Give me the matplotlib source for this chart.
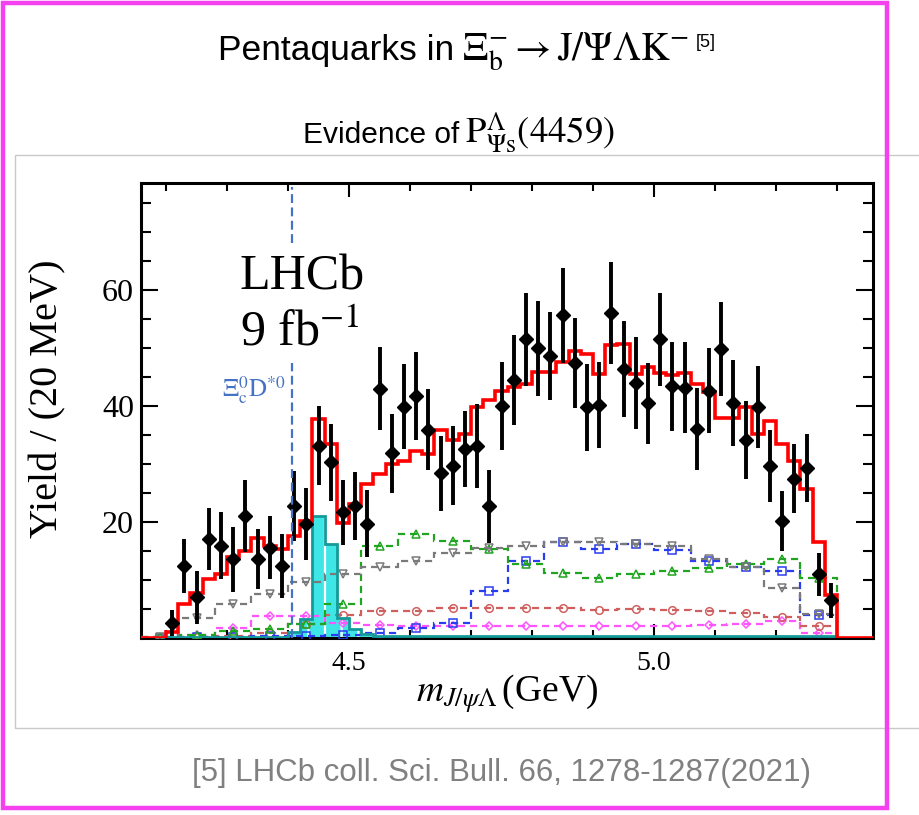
import numpy as np
import matplotlib
matplotlib.use("Agg")
import matplotlib.pyplot as plt
from matplotlib.patches import Rectangle
from matplotlib.ticker import MultipleLocator

plt.rcParams["mathtext.fontset"] = "stix"
plt.rcParams["font.family"] = ["Liberation Serif", "DejaVu Serif"]
plt.rcParams["hatch.color"] = "white"
plt.rcParams["hatch.linewidth"] = 1.6

# ---- data: 20 MeV bins from 4.20 to 5.30 GeV ----
fine_lo, fine_hi = 4.20, 5.30
data_yield = [2.6, 12.4, 7.0, 17.1, 15.9, 13.6, 21.1, 13.6, 15.6, 12.4,
              22.8, 19.7, 33.2, 30.3, 21.7, 22.8, 19.7, 43.0, 31.9, 39.9,
              41.7, 35.9, 28.4, 29.7, 32.6, 33.1, 22.7, 40.0, 44.5, 51.5,
              50.0, 48.6, 55.7, 47.4, 39.8, 40.2, 56.1, 46.4, 44.0, 40.5,
              51.5, 43.4, 43.2, 36.1, 42.7, 49.9, 40.5, 34.2, 39.9, 29.6,
              20.2, 27.5, 29.3, 11.0, 6.5]
data_err = [2.3, 4.6, 4.5, 5.3, 5.8, 5.6, 6.2, 5.2, 5.5, 5.5,
            6.0, 6.2, 6.8, 6.6, 5.6, 5.9, 5.8, 7.2, 6.8, 7.3,
            7.6, 7.0, 6.5, 6.8, 6.6, 7.3, 6.3, 7.6, 7.8, 8.1,
            8.2, 7.6, 8.2, 7.8, 7.5, 7.5, 8.8, 8.3, 7.9, 7.0,
            8.0, 7.7, 7.8, 7.1, 7.3, 8.1, 7.4, 6.7, 7.1, 6.2,
            5.2, 5.9, 5.9, 3.7, 3.0]
fit_total = [1.0, 5.8, 7.8, 10.1, 11.0, 13.9, 15.0, 17.3, 15.9, 15.3,
             17.6, 20.2, 37.8, 33.5, 19.9, 23.1, 26.6, 28.3, 30.0, 30.6,
             32.3, 31.7, 35.8, 34.1, 35.2, 39.8, 41.0, 42.7, 43.3, 43.9,
             45.9, 45.9, 47.6, 49.6, 49.0, 45.5, 50.5, 50.8, 45.6, 46.7,
             45.8, 45.3, 45.7, 43.9, 42.4, 37.9, 37.9, 39.8, 35.2, 37.5,
             33.5, 30.6, 25.7, 16.5, 7.5]
pc_signal = [0.2, 0.2, 0.2, 0.2, 0.2, 0.2, 0.2, 0.2, 0.2, 0.2,
             1.0, 3.2, 21.1, 16.2, 3.5, 1.5, 0.7, 0.3, 0.3, 0.3,
             0.3, 0.3, 0.3, 0.3, 0.3, 0.3, 0.3, 0.3, 0.3, 0.3,
             0.3, 0.3, 0.3, 0.3, 0.3, 0.3, 0.3, 0.3, 0.3, 0.3,
             0.3, 0.3, 0.3, 0.3, 0.3, 0.3, 0.3, 0.3, 0.3, 0.3,
             0.3, 0.3, 0.3, 0.3, 0.3]

# ---- fit components: 60 MeV bins from 4.16 to 5.30 GeV ----
coarse_lo, coarse_hi = 4.16, 5.30
comp_gray = [0.2, 3.5, 5.8, 7.6, 9.6, 11.0, 12.2, 13.3, 14.7, 15.6,
             15.9, 16.6, 16.6, 16.3, 15.8, 13.6, 12.2, 8.7, 4.2]
comp_green = [0.1, 0.6, 1.2, 1.6, 2.5, 5.8, 15.9, 17.9, 16.8, 15.4,
              12.7, 11.3, 10.4, 11.0, 11.5, 12.1, 12.7, 13.6, 10.4]
comp_blue = [0.0, 0.1, 0.2, 0.3, 0.4, 0.6, 0.9, 1.7, 2.6, 8.1,
             13.2, 16.5, 15.3, 16.3, 15.1, 13.3, 12.2, 11.6, 3.9]
comp_brown = [0.0, 0.1, 0.3, 0.9, 2.4, 4.0, 4.7, 4.7, 5.1, 5.1,
              5.2, 5.2, 4.9, 5.0, 4.8, 4.6, 4.3, 3.7, 2.1]
comp_magenta = [0.0, 0.5, 1.8, 3.8, 3.8, 2.6, 2.2, 2.0, 2.0, 2.0,
                2.1, 2.0, 2.0, 2.0, 2.1, 2.3, 2.5, 2.9, 0.9]

threshold_mass = 4.4066
x_range = (4.159, 5.359)
y_range = (0.0, 78.5)

fine_edges = np.linspace(fine_lo, fine_hi, len(fit_total) + 1)
fine_centers = 0.5 * (fine_edges[:-1] + fine_edges[1:])
coarse_edges = np.linspace(coarse_lo, coarse_hi, len(comp_gray) + 1)
coarse_centers = 0.5 * (coarse_edges[:-1] + coarse_edges[1:])

W, H = 920, 815
fig = plt.figure(figsize=(W / 100, H / 100), dpi=100)
fig.patch.set_facecolor("white")


def fx(px):
    return px / W


def fy(py):
    return 1 - py / H


ax = fig.add_axes([fx(141), fy(638), fx(873) - fx(141), fy(183) - fy(638)])
ax.set_xlim(*x_range)
ax.set_ylim(*y_range)

# components
comp_styles = [
    (comp_magenta, "#ff55ff", "D", 4.5),
    (comp_brown, "#d06060", "o", 5.5),
    (comp_blue, "#2a3cf0", "s", 5.5),
    (comp_green, "#1fa51f", "^", 6.0),
    (comp_gray, "#7a7a7a", "v", 6.0),
]
for vals, col, mk, ms in comp_styles:
    ax.stairs(vals, coarse_edges, color=col, lw=1.6, ls=(0, (3.2, 2.2)), zorder=3)
    ax.plot(coarse_centers, vals, ls="none", marker=mk, ms=ms, mfc="none",
            mec=col, mew=1.1, zorder=3)

# Pc signal (hatched cyan)
ax.stairs(pc_signal, fine_edges, fill=True, facecolor="#3fe6e6",
          hatch="|", lw=0, zorder=2)
ax.stairs(pc_signal, fine_edges, color="#159a9a", lw=2.0, zorder=4)

# total fit
ax.stairs(fit_total, fine_edges, color="#ff0000", lw=2.6, zorder=5)
ax.plot([x_range[0], fine_lo], [0, 0], color="#ff0000", lw=2.6, zorder=5,
        solid_capstyle="butt")
ax.plot([fine_hi, x_range[1]], [0, 0], color="#ff0000", lw=2.6, zorder=5,
        solid_capstyle="butt")

# data
ax.errorbar(fine_centers, data_yield, yerr=data_err, fmt="D", color="black",
            ms=7.5, elinewidth=2.8, capsize=0, zorder=6)

# threshold line
for y0, y1 in [(0.0, 47.5), (68.1, 77.8)]:
    ax.plot([threshold_mass, threshold_mass], [y0, y1], color="#4472c4",
            lw=1.6, ls=(0, (4, 2)), zorder=7)

# axes styling
for sp in ax.spines.values():
    sp.set_linewidth(2.2)
ax.xaxis.set_major_locator(MultipleLocator(0.5))
ax.xaxis.set_minor_locator(MultipleLocator(0.1))
ax.yaxis.set_major_locator(MultipleLocator(20))
ax.yaxis.set_minor_locator(MultipleLocator(5))
ax.tick_params(which="both", direction="in", top=True, right=True, width=1.5)
ax.tick_params(axis="x", which="major", length=10, labelsize=20, pad=9)
ax.tick_params(axis="x", which="minor", length=6)
ax.tick_params(axis="y", which="major", length=12, labelsize=23, pad=5)
ax.tick_params(axis="y", which="minor", length=7)
ax.set_xticks([4.5, 5.0])
ax.set_xticklabels(["4.5", "5.0"])
ax.set_yticks([20, 40, 60])

ax.set_xlabel(r"$m_{J/\psi\mathit{\Lambda}}\,$(GeV)", fontsize=27)
ax.xaxis.set_label_coords(0.5, -0.075)
ax.xaxis.label.set_va("top")
ax.set_ylabel("Yield / (20 MeV)", fontsize=29)
ax.yaxis.set_label_coords(-0.102, 0.525)

fig.text(fx(240), fy(289), "LHCb", fontsize=36, va="baseline", ha="left")
fig.text(fx(240), fy(346), r"9 fb$^{-1}$", fontsize=36, va="baseline", ha="left")
fig.text(fx(222), fy(397), r"$\Xi_{\mathrm{c}}^{0}\mathrm{D}^{*0}$", fontsize=18,
         color="#4472c4", va="baseline", ha="left")

# slide decorations
fig.patches.append(Rectangle((fx(15), fy(728)), fx(940) - fx(15), fy(155) - fy(728),
                             transform=fig.transFigure, fill=False,
                             edgecolor="#c9c9c9", lw=1.0, zorder=0))
fig.patches.append(Rectangle((fx(3), fy(808)), fx(887) - fx(3), fy(3) - fy(808),
                             transform=fig.transFigure, fill=False,
                             edgecolor="#f540f0", lw=3.2, zorder=10))

sans = ["Liberation Sans", "DejaVu Sans"]
renderer = fig.canvas.get_renderer()


def text_run(x_px, base_px, pieces):
    """Place consecutive text pieces on one baseline, left to right."""
    x = x_px
    for s, size, fam, dy, gap in pieces:
        t = fig.text(fx(x), fy(base_px - dy), s, fontsize=size, family=fam,
                     va="baseline", ha="left")
        bb = t.get_window_extent(renderer)
        x = bb.x1 + gap


text_run(218, 60, [
    ("Pentaquarks in", 25.5, sans, 0, 8),
    (r"$\Xi_{\mathrm{b}}^{-}\rightarrow\mathrm{J}/\Psi\Lambda\mathrm{K}^{-}$", 28.5, sans, 0, 7),
    ("[5]", 13, sans, 13, 0),
])
text_run(303, 143, [
    ("Evidence of", 21.5, sans, 0, 6),
    (r"$\mathrm{P}_{\Psi\mathrm{s}}^{\Lambda}(4459)$", 26.5, sans, 0, 0),
])
fig.text(fx(192), fy(781), "[5] LHCb coll. Sci. Bull. 66, 1278-1287(2021)",
         fontsize=22.5, family=sans, color="#808080", va="baseline", ha="left")

fig.savefig("out.png", dpi=100, facecolor="white")
